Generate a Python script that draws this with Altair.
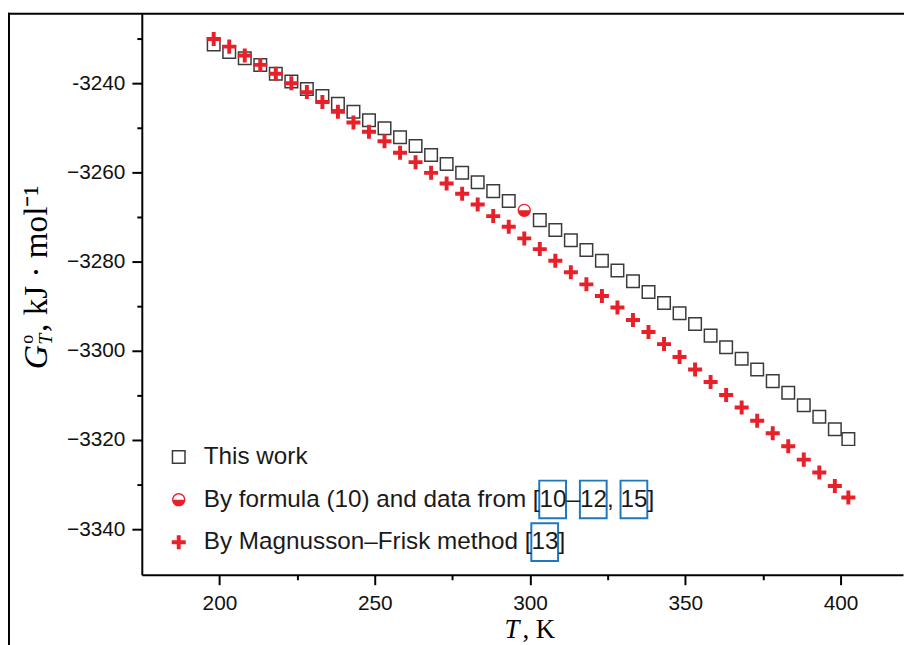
import altair as alt
import pandas as pd

# ---------------- data ----------------
T_K = [198.15, 203.15, 208.15, 213.15, 218.15, 223.15, 228.15, 233.15, 238.15, 243.15,
       248.15, 253.15, 258.15, 263.15, 268.15, 273.15, 278.15, 283.15, 288.15, 293.15,
       298.15, 303.15, 308.15, 313.15, 318.15, 323.15, 328.15, 333.15, 338.15, 343.15,
       348.15, 353.15, 358.15, 363.15, 368.15, 373.15, 378.15, 383.15, 388.15, 393.15,
       398.15, 402.5]

THIS_WORK = [-3231.3, -3233.0, -3234.4, -3235.9, -3237.9, -3239.6, -3241.3, -3242.9, -3244.6, -3246.4,
             -3248.3, -3250.1, -3252.1, -3254.1, -3256.1, -3258.1, -3260.1, -3262.2, -3264.2, -3266.4,
             None, -3270.7, -3272.9, -3275.2, -3277.4, -3279.8, -3282.0, -3284.4, -3286.8, -3289.3,
             -3291.6, -3294.0, -3296.6, -3299.2, -3301.8, -3304.2, -3306.8, -3309.4, -3312.2, -3314.8,
             -3317.6, -3319.8]

MAGNUSSON_FRISK = [-3230.1, -3231.8, -3233.8, -3235.9, -3237.9, -3240.0, -3242.0, -3244.2, -3246.4, -3248.8,
                   -3250.9, -3253.0, -3255.6, -3257.7, -3260.1, -3262.5, -3264.8, -3267.2, -3269.8, -3272.2,
                   -3274.8, -3277.2, -3279.8, -3282.4, -3285.1, -3287.7, -3290.3, -3293.1, -3295.8, -3298.5,
                   -3301.4, -3304.2, -3307.0, -3309.9, -3312.7, -3315.7, -3318.5, -3321.4, -3324.4, -3327.3,
                   -3330.3, -3332.9]

FORMULA_T = [298.15]
FORMULA_G = [-3268.5]

SERIES = ["This work",
          "By formula (10) and data from [10–12, 15]",
          "By Magnusson–Frisk method [13]"]

X_TICKS = [200, 225, 250, 275, 300, 325, 350, 375, 400]
Y_TICKS = [-3340, -3330, -3320, -3310, -3300, -3290, -3280, -3270, -3260, -3250, -3240, -3230]

# ---------------- styling ----------------
RED = "#e8202a"
GRAY = "#3a3a3a"
LINK_BLUE = "#1f78be"
HALF_CIRCLE = ("M -1 0 A 1 1 0 0 0 1 0 Z "
               "M -1 0 A 1 1 0 0 1 1 0 L 0.8 0 A 0.8 0.8 0 0 0 -0.8 0 Z")
CROSS = ("M -1 -0.28 L -0.28 -0.28 L -0.28 -1 L 0.28 -1 L 0.28 -0.28 L 1 -0.28 "
         "L 1 0.28 L 0.28 0.28 L 0.28 1 L -0.28 1 L -0.28 0.28 L -1 0.28 Z")

W, H = 768, 566

rows = []
for t, g in zip(T_K, THIS_WORK):
    if g is not None:
        rows.append({"T": t, "G": g, "series": SERIES[0]})
for t, g in zip(T_K, MAGNUSSON_FRISK):
    rows.append({"T": t, "G": g, "series": SERIES[2]})
for t, g in zip(FORMULA_T, FORMULA_G):
    rows.append({"T": t, "G": g, "series": SERIES[1]})
df = pd.DataFrame(rows)

legend = alt.Legend(orient="none", legendX=25, legendY=435, title=None,
                    labelFont="Liberation Sans", labelFontSize=24.5, labelColor="#1a1a1a",
                    rowPadding=18, labelOffset=13, symbolStrokeWidth=1.5, padding=0,
                    labelLimit=700)

x_axis = alt.Axis(values=X_TICKS, format="d",
                  labelExpr="datum.value % 50 === 0 ? datum.label : ''",
                  tickSize={"condition": {"test": "datum.value % 50 === 0", "value": 10}, "value": 5},
                  title=None, grid=False, domainColor="black", domainWidth=2,
                  tickColor="black", tickWidth=2, labelFont="Liberation Sans",
                  labelFontSize=21, labelColor="#111111", labelPadding=8,
                  labelFlush=False, labelOverlap=False)

y_axis = alt.Axis(values=Y_TICKS, format="d",
                  labelExpr="datum.value % 20 === 0 ? (datum.value === -3240 ? '-3240' : datum.label) : ''",
                  tickSize={"condition": {"test": "datum.value % 20 === 0", "value": 10}, "value": 5},
                  title=None, grid=False, domainColor="black", domainWidth=2,
                  tickColor="black", tickWidth=2, labelFont="Liberation Sans",
                  labelFontSize=21, labelColor="#111111", labelPadding=7,
                  labelFlush=False, labelOverlap=False)

points = alt.Chart(df).mark_point(opacity=1, strokeWidth=1.5).encode(
    x=alt.X("T:Q", scale=alt.Scale(domain=[175, 420.1], nice=False, zero=False), axis=x_axis),
    y=alt.Y("G:Q", scale=alt.Scale(domain=[-3350.22, -3224.44], nice=False, zero=False), axis=y_axis),
    shape=alt.Shape("series:N", scale=alt.Scale(domain=SERIES, range=["square", HALF_CIRCLE, CROSS]), legend=legend),
    fill=alt.Fill("series:N", scale=alt.Scale(domain=SERIES, range=["transparent", RED, RED]), legend=legend),
    stroke=alt.Stroke("series:N", scale=alt.Scale(domain=SERIES, range=[GRAY, "transparent", "transparent"]), legend=legend),
    size=alt.Size("series:N", scale=alt.Scale(domain=SERIES, range=[160, 200, 200]), legend=legend),
)

one = alt.Data(values=[{"k": 1}])

frame_left = alt.Chart(one).mark_rule(color="black", strokeWidth=2).encode(
    x=alt.value(-134), y=alt.value(-1), y2=alt.value(H + 80))
frame_top = alt.Chart(one).mark_rule(color="black", strokeWidth=2).encode(
    x=alt.value(-135), x2=alt.value(W + 5), y=alt.value(0))


def txt(s, x, y, size, style="normal", align="left", angle=0):
    return alt.Chart(one).mark_text(
        text=s, font="Liberation Serif", fontSize=size, fontStyle=style,
        align=align, baseline="alphabetic", angle=angle, color="black"
    ).encode(x=alt.value(x), y=alt.value(y))


def link_box(x1, x2, y1, y2):
    # PDF hyperlink frames drawn around the reference numbers in the legend
    return alt.Chart(one).mark_rect(fill=None, stroke=LINK_BLUE, strokeWidth=2).encode(
        x=alt.value(x1), x2=alt.value(x2), y=alt.value(y1), y2=alt.value(y2))


boxes = [link_box(401, 428, 471, 509), link_box(442, 469, 471, 509),
         link_box(483, 510, 471, 509), link_box(393, 420, 514, 552)]

# x-axis title: T, K
xt1 = txt("T", 381, 630, 27, style="italic", align="right")
xt2 = txt(", K", 384, 630, 27, align="left")

# y-axis title: G°_T, kJ · mol⁻¹ (rotated)
yt1 = txt("G", -96, 334, 34, style="italic", align="right", angle=270)
yt2 = txt("o", -110, 333, 18, align="left", angle=270)
yt3 = txt("T", -91, 334, 20, style="italic", align="left", angle=270)
yt4 = txt(", kJ · mol⁻¹", -96, 321, 33.5, align="left", angle=270)

chart = alt.layer(points, frame_left, frame_top, *boxes, xt1, xt2, yt1, yt2, yt3, yt4).properties(
    width=W, height=H,
    autosize=alt.AutoSizeParams(type="none"),
    padding={"left": 135, "top": 3, "right": 1, "bottom": 68},
    background="white",
).configure_view(stroke=None)

chart.save("out.html", embed_options={"renderer": "svg", "actions": False})
